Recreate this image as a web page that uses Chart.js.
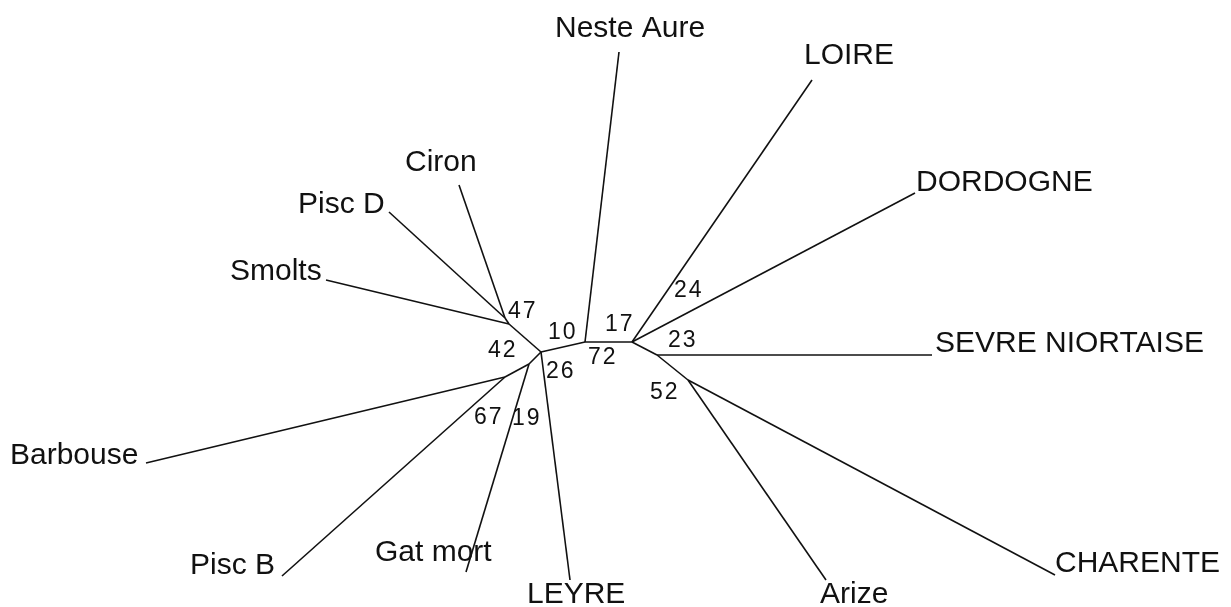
<!DOCTYPE html>
<html lang="fr">
<head>
<meta charset="UTF-8">
<title>Arbre</title>
<style>
  html, body { margin: 0; padding: 0; background: #fff; }
  #wrap { width: 1231px; height: 607px; }
</style>
</head>
<body>
<div id="wrap"><canvas id="tree"></canvas></div>
<script src="https://cdn.jsdelivr.net/npm/chart.js"></script>
<script>
// feuilles de l'arbre (extrémités des branches)
const tipNames = ['Neste Aure', 'LOIRE', 'DORDOGNE', 'SEVRE NIORTAISE', 'CHARENTE', 'Arize',
                  'LEYRE', 'Gat mort', 'Pisc B', 'Barbouse', 'Smolts', 'Pisc D', 'Ciron'];
const tipX = [619, 812, 915, 932, 1055, 826, 570, 466, 282, 146, 326, 389, 459];
const tipY = [52, 80, 193, 355, 575, 580, 580, 572, 576, 463, 280, 212, 185];
// position du texte de chaque feuille (gauche, milieu)
const tipLabelX = [555, 804, 916, 935, 1055, 820, 527, 375, 190, 10, 230, 298, 405];
const tipLabelY = [29, 56, 183, 344, 564, 595, 595, 553, 566, 456, 272, 205, 163];

// noeuds internes
const innerNames = ['n1', 'n2', 'n3', 'n4', 'n5', 'n6', 'n7', 'n8', 'n9'];
const innerX = [505, 509, 541, 585, 632, 657, 688, 529, 505];
const innerY = [318, 324, 352, 342, 342, 355, 380, 364, 377];

// branches
const edgeFrom = ['n1', 'n1', 'n2', 'n2', 'n3', 'n3', 'n4', 'n4', 'n5', 'n5', 'n5',
                  'n6', 'n6', 'n7', 'n7', 'n3', 'n3', 'n8', 'n8', 'n9', 'n9'];
const edgeTo = ['Ciron', 'Pisc D', 'n1', 'Smolts', 'n2', 'n4', 'Neste Aure', 'n5', 'LOIRE', 'DORDOGNE', 'n6',
                'SEVRE NIORTAISE', 'n7', 'Arize', 'CHARENTE', 'LEYRE', 'n8', 'Gat mort', 'n9', 'Barbouse', 'Pisc B'];

// valeurs de bootstrap
const bootValues = ['47', '10', '17', '24', '23', '42', '72', '26', '52', '67', '19'];
const bootX = [508, 548, 605, 674, 668, 488, 588, 546, 650, 474, 512];
const bootY = [312, 333, 325, 291, 341, 351, 358, 372, 393, 418, 419];

function pos(name) {
  let i = tipNames.indexOf(name);
  if (i >= 0) return { x: tipX[i], y: tipY[i] };
  i = innerNames.indexOf(name);
  return { x: innerX[i], y: innerY[i] };
}

const datasets = edgeFrom.map((f, i) => ({
  data: [pos(f), pos(edgeTo[i])],
  showLine: true,
  borderColor: '#111',
  borderWidth: 1.6,
  pointRadius: 0,
  pointHoverRadius: 0
}));

const labelPlugin = {
  id: 'labels',
  afterDatasetsDraw(chart) {
    const c = chart.ctx, sx = chart.scales.x, sy = chart.scales.y;
    c.save();
    c.fillStyle = '#111';
    c.textAlign = 'left';
    c.textBaseline = 'middle';
    c.font = '30px "Liberation Sans", Arial, sans-serif';
    tipNames.forEach((t, i) => {
      c.fillText(t, sx.getPixelForValue(tipLabelX[i]), sy.getPixelForValue(tipLabelY[i]));
    });
    c.font = '23px "Liberation Sans", Arial, sans-serif';
    c.letterSpacing = '2px';
    bootValues.forEach((v, i) => {
      c.fillText(v, sx.getPixelForValue(bootX[i]), sy.getPixelForValue(bootY[i]));
    });
    c.restore();
  }
};

new Chart(document.getElementById('tree'), {
  type: 'scatter',
  data: { datasets: datasets },
  options: {
    responsive: true,
    maintainAspectRatio: false,
    animation: false,
    layout: { padding: 0 },
    plugins: { legend: { display: false }, tooltip: { enabled: false } },
    scales: {
      x: { display: false, min: 0, max: 1231 },
      y: { display: false, min: 0, max: 607, reverse: true }
    }
  },
  plugins: [labelPlugin]
});
</script>
</body>
</html>
